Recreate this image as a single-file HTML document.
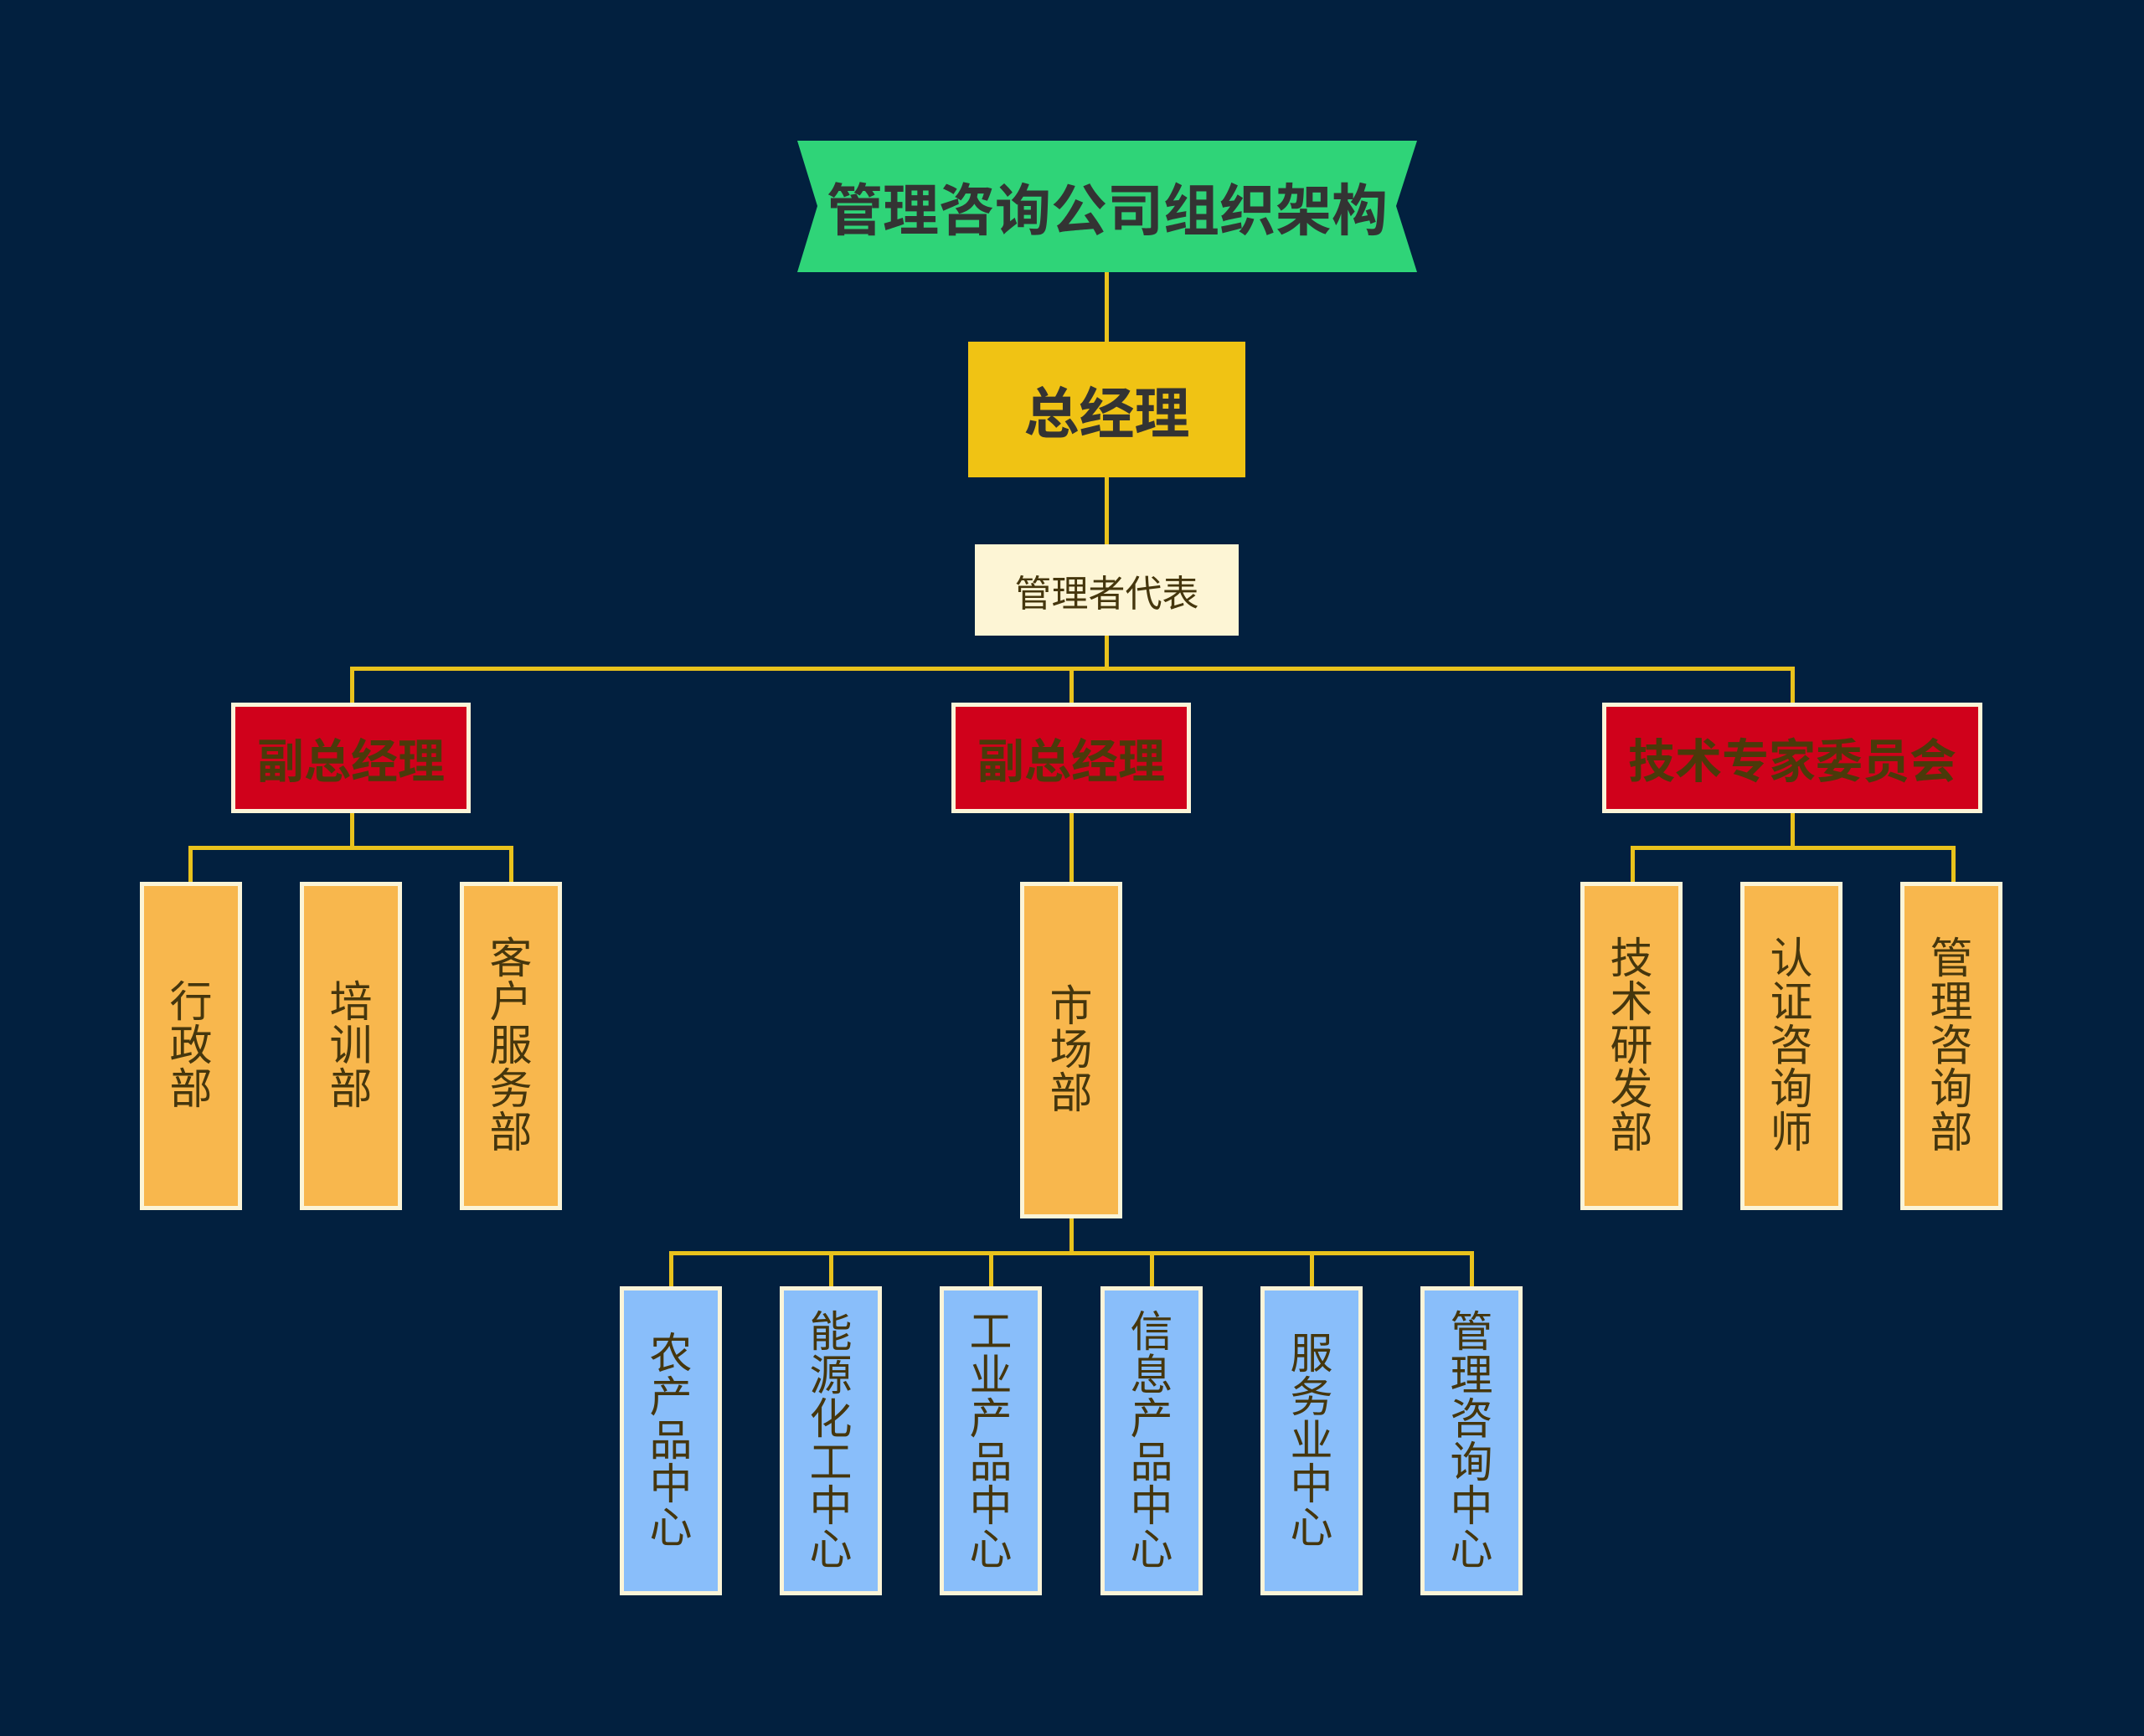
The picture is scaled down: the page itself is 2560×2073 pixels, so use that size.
<!DOCTYPE html>
<html><head><meta charset="utf-8"><style>
html,body{margin:0;padding:0}
body{width:2560px;height:2073px;background:#02203f;position:relative;overflow:hidden;font-family:"Liberation Sans","Noto Sans CJK SC",sans-serif}
.l{position:absolute;background:#e9c21c}
.b{position:absolute;box-sizing:border-box;display:flex;align-items:center;justify-content:center;text-align:center;color:#45360d}
.v{border:5px solid #fbf4d8;font-size:51px;line-height:52px;width:122px}
.o{background:#f8b74d}
.bl{background:#89befa}
.r{background:#d0011b;border:5px solid #fbf4d8;font-weight:bold;font-size:56px;color:#4a3a0a}
</style></head><body>
<svg style="position:absolute;left:0;top:0" width="2560" height="2073">
<polygon points="952,168 1692,168 1667,246 1692,325 952,325 976,246" fill="#2fd478"/>
</svg>
<div class="b" style="left:952px;top:168px;width:740px;height:157px;font-size:67px;font-weight:bold;color:#333">管理咨询公司组织架构</div>
<div class="l" style="left:1319px;top:325px;width:5px;height:84px"></div>
<div class="l" style="left:1319px;top:570px;width:5px;height:81px"></div>
<div class="l" style="left:1319px;top:759px;width:5px;height:40px"></div>
<div class="l" style="left:418px;top:796px;width:1725px;height:5px"></div>
<div class="l" style="left:418px;top:796px;width:5px;height:44px"></div>
<div class="l" style="left:1277px;top:796px;width:5px;height:44px"></div>
<div class="l" style="left:2138px;top:796px;width:5px;height:44px"></div>
<div class="l" style="left:418px;top:971px;width:5px;height:42px"></div>
<div class="l" style="left:225px;top:1010px;width:388px;height:5px"></div>
<div class="l" style="left:225px;top:1010px;width:5px;height:44px"></div>
<div class="l" style="left:608px;top:1010px;width:5px;height:44px"></div>
<div class="l" style="left:1277px;top:971px;width:5px;height:83px"></div>
<div class="l" style="left:2138px;top:971px;width:5px;height:42px"></div>
<div class="l" style="left:1947px;top:1010px;width:388px;height:5px"></div>
<div class="l" style="left:1947px;top:1010px;width:5px;height:44px"></div>
<div class="l" style="left:2330px;top:1010px;width:5px;height:44px"></div>
<div class="l" style="left:1277px;top:1455px;width:5px;height:42px"></div>
<div class="l" style="left:799px;top:1494px;width:961px;height:5px"></div>
<div class="l" style="left:799px;top:1494px;width:5px;height:43px"></div>
<div class="l" style="left:990px;top:1494px;width:5px;height:43px"></div>
<div class="l" style="left:1181px;top:1494px;width:5px;height:43px"></div>
<div class="l" style="left:1373px;top:1494px;width:5px;height:43px"></div>
<div class="l" style="left:1564px;top:1494px;width:5px;height:43px"></div>
<div class="l" style="left:1755px;top:1494px;width:5px;height:43px"></div>
<div class="b" style="left:1156px;top:408px;width:331px;height:162px;background:#f0c314;font-size:66px;font-weight:bold;color:#333">总经理</div>
<div class="b" style="left:1164px;top:650px;width:315px;height:109px;background:#fdf5d5;font-size:44px;color:#45360d">管理者代表</div>
<div class="b r" style="left:276px;top:839px;width:286px;height:132px">副总经理</div>
<div class="b r" style="left:1136px;top:839px;width:286px;height:132px">副总经理</div>
<div class="b r" style="left:1913px;top:839px;width:454px;height:132px">技术专家委员会</div>
<div class="b v o" style="left:167px;top:1053px;height:392px">行<br>政<br>部</div>
<div class="b v o" style="left:358px;top:1053px;height:392px">培<br>训<br>部</div>
<div class="b v o" style="left:549px;top:1053px;height:392px">客<br>户<br>服<br>务<br>部</div>
<div class="b v o" style="left:1218px;top:1053px;height:402px">市<br>场<br>部</div>
<div class="b v o" style="left:1887px;top:1053px;height:392px">技<br>术<br>研<br>发<br>部</div>
<div class="b v o" style="left:2078px;top:1053px;height:392px">认<br>证<br>咨<br>询<br>师</div>
<div class="b v o" style="left:2269px;top:1053px;height:392px">管<br>理<br>咨<br>询<br>部</div>
<div class="b v bl" style="left:740px;top:1536px;height:369px">农<br>产<br>品<br>中<br>心</div>
<div class="b v bl" style="left:931px;top:1536px;height:369px">能<br>源<br>化<br>工<br>中<br>心</div>
<div class="b v bl" style="left:1122px;top:1536px;height:369px">工<br>业<br>产<br>品<br>中<br>心</div>
<div class="b v bl" style="left:1314px;top:1536px;height:369px">信<br>息<br>产<br>品<br>中<br>心</div>
<div class="b v bl" style="left:1505px;top:1536px;height:369px">服<br>务<br>业<br>中<br>心</div>
<div class="b v bl" style="left:1696px;top:1536px;height:369px">管<br>理<br>咨<br>询<br>中<br>心</div>
</body></html>
